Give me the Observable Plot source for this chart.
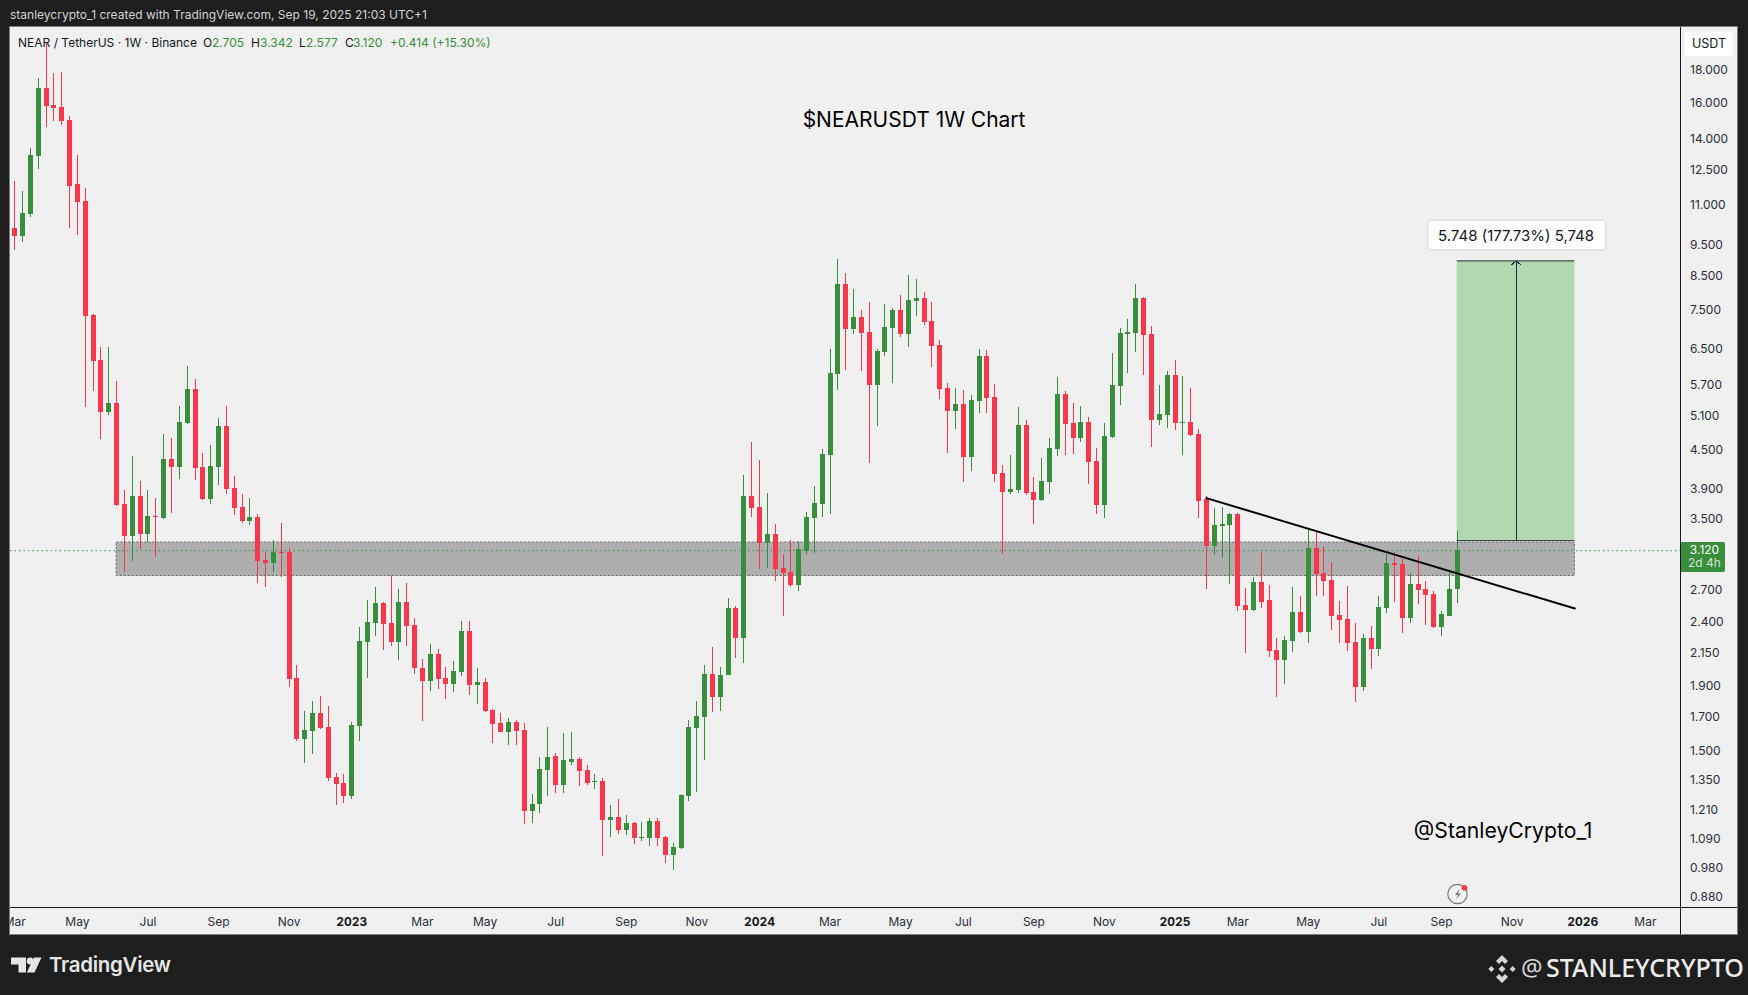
<!DOCTYPE html>
<html>
<head>
<meta charset="utf-8">
<script src="https://cdn.jsdelivr.net/npm/d3@7"></script>
<script src="https://cdn.jsdelivr.net/npm/@observablehq/plot@0.6"></script>
<style>
html,body{margin:0;padding:0;background:#1e1e1e;width:1748px;height:995px;overflow:hidden;font-family:Inter,"Noto Sans",sans-serif}
.t{position:absolute;white-space:pre;line-height:1}
#panel{position:absolute;left:10px;top:27px;width:1727px;height:907px;background:#f0f0f0;box-shadow:0 0 0 1px #7d7d7d;overflow:hidden}
#panel svg{display:block;background:transparent}
.g{color:#388e3c}.k{color:#131722}
</style>
</head>
<body>
<div class="t" style="left:10px;top:9px;font-size:12px;color:#d2d2d2">stanleycrypto_1 created with TradingView.com, Sep 19, 2025 21:03 UTC+1</div>
<div id="panel"></div>
<div style="position:absolute;left:10px;top:907px;width:1727px;height:1px;background:#131722"></div>
<div style="position:absolute;left:1680px;top:27px;width:1px;height:907px;background:#131722"></div>

<div class="t k" style="left:18px;top:37px;font-size:12px">NEAR / TetherUS · 1W · Binance</div>
<div class="t k" style="left:203px;top:37px;font-size:12px">O</div><div class="t g" style="left:212px;top:37px;font-size:12px">2.705</div>
<div class="t k" style="left:251px;top:37px;font-size:12px">H</div><div class="t g" style="left:260px;top:37px;font-size:12px">3.342</div>
<div class="t k" style="left:299px;top:37px;font-size:12px">L</div><div class="t g" style="left:306px;top:37px;font-size:12px">2.577</div>
<div class="t k" style="left:345px;top:37px;font-size:12px">C</div><div class="t g" style="left:353px;top:37px;font-size:12px">3.120</div>
<div class="t g" style="left:390px;top:37px;font-size:12px">+0.414 (+15.30%)</div>

<div style="position:absolute;left:1685px;top:32px;width:48px;height:24px;background:#fff;border-radius:3px"></div>
<div class="t k" style="left:1685px;width:48px;top:38px;font-size:12.5px;text-align:center">USDT</div>

<div style="position:absolute;left:1681px;top:542px;width:44px;height:30px;background:#388e3c;border-radius:0 2px 2px 0"></div>
<div class="t" style="left:1681px;width:47px;top:544px;font-size:12px;text-align:center;color:#fff">3.120</div>
<div class="t" style="left:1681px;width:47px;top:557px;font-size:12px;text-align:center;color:#cfe5d0">2d 4h</div>

<svg style="position:absolute;left:1444px;top:881px" width="28" height="26" viewBox="0 0 28 26">
  <circle cx="13.5" cy="13" r="9.7" fill="#f0f0f0" stroke="#7a7a7a" stroke-width="1.2"/>
  <path d="M15.5 8 L11 14 H14 L12 18.5 L17 12.5 H14 Z" fill="#777"/>
  <circle cx="20.5" cy="6.8" r="2.9" fill="#f7374b"/>
</svg>

<svg style="position:absolute;left:11px;top:956px" width="32" height="18" viewBox="0 0 32 18">
  <path d="M0 1.5 H15 V16.5 H7.5 V8.5 H0 Z" fill="#e6e6e6"/>
  <circle cx="19.2" cy="5" r="3.5" fill="#e6e6e6"/>
  <path d="M23 1.5 H30.5 L23.5 16.5 H15.8 Z" fill="#e6e6e6"/>
</svg>
<div class="t" style="left:49px;top:955px;font-size:20.5px;font-weight:600;color:#e6e6e6;letter-spacing:-0.3px">TradingView</div>

<svg style="position:absolute;left:1488px;top:955px" width="28" height="28" viewBox="0 0 28 28">
  <g fill="#d7d7d7">
    <path d="M14 0 L20 6 L17 9 L14 6 L11 9 L8 6 Z"/>
    <path d="M14 28 L20 22 L17 19 L14 22 L11 19 L8 22 Z"/>
    <path d="M3.3 11 L6.3 14 L3.3 17 L0.3 14 Z"/>
    <path d="M24.7 11 L27.7 14 L24.7 17 L21.7 14 Z"/>
    <path d="M14 10.5 L17.5 14 L14 17.5 L10.5 14 Z"/>
  </g>
</svg>
<div class="t" style="left:1521px;top:955px;font-size:24px;color:#d7d7d7;font-family:'Noto Sans'">@</div>
<div class="t" style="left:1546px;top:955px;font-size:25px;font-weight:500;color:#ececec;font-family:'Noto Sans'">STANLEYCRYPTO</div>

<script>
// Weekly NEAR/USDT candles from the week of 2022-03-07
const firstWeek = [2022, 2, 7];
const opens = [
10.11,9.82,10.64,13.15,16.85,15.84,15.72,14.99,11.87,11.16,
7.36,6.24,5.17,5.34,3.692,3.285,3.802,3.309,3.534,3.508,
4.351,4.226,4.962,5.618,4.226,3.76,4.226,4.908,3.914,3.652,
3.47,3.521,3.01,2.977,3.099,3.099,1.957,1.566,1.613,1.722,
1.636,1.364,1.334,1.272,1.642,2.231,2.392,2.572,2.392,2.231,
2.582,2.374,2.03,1.936,2.136,1.957,1.914,2.0,2.323,1.908,
1.929,1.741,1.661,1.607,1.667,1.619,1.205,1.236,1.399,1.472,
1.324,1.44,1.456,1.399,1.339,1.343,1.165,1.178,1.124,1.153,
1.091,1.091,1.161,1.095,1.026,1.052,1.272,1.63,1.697,1.986,
1.826,1.978,2.526,2.264,3.802,3.652,3.203,3.309,2.923,2.881,
2.748,3.11,3.508,3.692,4.415,5.933,8.24,6.99,7.31,6.92,
5.70,6.43,7.02,7.50,6.87,7.74,7.83,7.2,6.6,5.64,
5.18,5.32,4.383,5.38,6.34,5.456,4.135,3.858,3.886,4.926,
3.858,3.747,4.0,4.513,5.516,4.962,4.698,4.981,4.32,3.68,
4.715,5.68,6.87,6.89,7.83,6.87,5.017,5.11,5.91,4.965,
4.981,4.767,3.76,3.168,3.408,3.42,3.56,2.554,2.508,2.778,
2.601,2.167,2.09,2.239,2.49,2.315,3.145,2.87,2.798,2.462,
2.427,2.231,1.894,2.264,2.175,2.526,2.977,2.966,2.436,2.758,
2.708,2.659,2.357,2.453,2.705];
const highs = [
12.00,11.57,13.54,17.48,19.86,17.80,17.87,15.21,13.20,11.70,
7.38,6.55,6.55,5.78,3.886,4.40,4.015,3.886,3.774,4.767,
4.698,5.28,6.11,5.826,4.447,4.579,5.054,5.28,4.09,3.83,
3.774,3.56,3.099,3.238,3.445,3.145,2.052,1.735,1.799,1.832,
1.767,1.383,1.378,1.667,2.357,2.601,2.728,2.582,2.85,2.708,
2.768,2.436,2.097,2.215,2.175,2.037,2.082,2.41,2.41,2.03,
1.957,1.747,1.722,1.691,1.679,1.661,1.281,1.467,1.636,1.488,
1.601,1.607,1.467,1.425,1.378,1.358,1.231,1.258,1.187,1.157,
1.157,1.174,1.174,1.099,1.072,1.281,1.679,1.799,2.052,2.191,
2.037,2.62,2.545,4.105,4.63,4.335,3.843,3.433,3.077,3.238,
3.226,3.586,3.943,4.513,6.50,9.03,8.58,8.09,7.50,7.72,
6.50,7.66,7.55,7.92,8.52,8.39,8.0,7.72,6.72,5.74,
5.64,5.60,5.50,6.5,6.48,5.72,4.26,4.415,5.26,5.017,
4.075,4.367,4.698,5.869,5.58,5.34,5.28,5.072,4.53,4.962,
6.405,7.02,7.25,8.24,7.86,7.07,5.70,5.998,6.24,5.89,
5.64,4.855,3.80,3.639,3.652,3.573,3.573,2.718,2.829,3.099,
2.748,2.264,2.281,2.728,2.64,3.383,3.347,3.168,2.988,2.592,
2.738,2.392,2.298,2.366,2.64,3.077,3.099,3.021,2.87,3.065,
2.788,2.689,2.5,2.892,3.342];
const lows = [
9.33,9.61,10.52,12.54,14.62,14.94,14.72,10.11,9.85,5.26,
5.58,4.68,5.11,3.67,2.881,2.999,3.133,3.215,3.043,3.50,
3.573,4.045,4.95,4.03,3.747,3.692,3.958,3.83,3.547,3.445,
3.42,2.768,2.728,2.881,2.829,1.894,1.555,1.435,1.483,1.624,
1.343,1.231,1.24,1.258,1.555,1.957,2.281,2.167,2.199,2.09,
2.199,1.986,1.673,1.866,1.88,1.812,1.859,1.971,1.839,1.78,
1.728,1.544,1.604,1.532,1.532,1.149,1.153,1.196,1.272,1.286,
1.286,1.425,1.319,1.324,1.305,1.022,1.095,1.107,1.103,1.068,
1.08,1.06,1.06,0.996,0.971,1.048,1.25,1.291,1.451,1.728,
1.735,1.975,2.105,2.067,3.521,2.913,2.923,2.788,2.453,2.728,
2.689,3.077,3.088,3.521,3.56,5.60,6.02,6.87,6.0,4.29,
4.908,6.34,5.74,6.79,6.55,7.33,7.09,6.09,5.42,4.447,
4.855,4.0,4.165,5.15,5.15,4.0,3.077,3.83,3.843,3.816,
3.433,3.74,3.83,4.40,4.415,4.432,4.63,3.972,3.56,3.508,
4.698,5.30,5.955,6.43,5.91,4.546,4.926,4.873,4.838,4.415,
4.733,3.508,2.708,3.065,3.032,2.758,2.5,2.143,2.50,2.526,
2.113,1.826,1.914,2.152,2.306,2.223,2.64,2.64,2.332,2.223,
2.159,1.793,1.866,2.022,2.12,2.48,2.582,2.306,2.392,2.56,
2.374,2.349,2.281,2.45,2.577];
const closes = [
9.82,10.68,13.20,16.85,15.78,15.66,14.94,11.79,11.12,7.33,
6.22,5.17,5.34,3.68,3.285,3.802,3.309,3.534,3.521,4.351,
4.226,4.981,5.618,4.21,3.76,4.242,4.908,3.90,3.639,3.47,
3.521,2.999,2.977,3.099,3.088,1.95,1.566,1.619,1.722,1.63,
1.358,1.329,1.272,1.649,2.239,2.40,2.572,2.383,2.231,2.582,
2.366,2.03,1.936,2.136,1.95,1.914,2.008,2.323,1.908,1.929,
1.735,1.655,1.607,1.667,1.613,1.205,1.236,1.404,1.467,1.324,
1.451,1.456,1.394,1.334,1.343,1.165,1.178,1.124,1.153,1.091,
1.095,1.161,1.091,1.026,1.056,1.276,1.636,1.703,1.986,1.826,
1.978,2.526,2.264,3.802,3.639,3.203,3.309,2.913,2.87,2.748,
3.133,3.521,3.705,4.432,5.955,8.24,6.99,7.31,6.89,5.70,
6.46,7.04,7.50,6.87,7.77,7.83,7.17,6.57,5.62,5.18,
5.32,4.383,5.40,6.34,5.44,4.12,3.858,3.90,4.926,3.843,
3.747,4.015,4.53,5.516,4.944,4.698,4.981,4.30,3.68,4.73,
5.70,6.89,6.92,7.83,6.84,5.017,5.13,5.91,4.962,4.981,
4.75,3.74,3.168,3.42,3.433,3.56,2.545,2.508,2.778,2.582,
2.159,2.09,2.247,2.49,2.315,3.145,2.86,2.788,2.453,2.419,
2.223,1.894,2.264,2.175,2.536,2.977,2.956,2.436,2.758,2.698,
2.649,2.357,2.472,2.708,3.12];

const priceTicks = [18,16,14,12.5,11,9.5,8.5,7.5,6.5,5.7,5.1,4.5,3.9,3.5,2.7,2.4,2.15,1.9,1.7,1.5,1.35,1.21,1.09,0.98,0.88];
const monthTickDates = ["2022-03-07","2022-05-02","2022-07-04","2022-09-05","2022-11-07","2023-03-06","2023-05-01","2023-07-03","2023-09-04","2023-11-06","2024-03-04","2024-05-06","2024-07-01","2024-09-02","2024-11-04","2025-03-03","2025-05-05","2025-07-07","2025-09-01","2025-11-03","2026-03-02"];
const monthTickLabels = ["Mar","May","Jul","Sep","Nov","Mar","May","Jul","Sep","Nov","Mar","May","Jul","Sep","Nov","Mar","May","Jul","Sep","Nov","Mar"];
const yearTickDates = ["2023-01-02","2024-01-01","2025-01-06","2026-01-05"];
const yearTickLabels = ["2023","2024","2025","2026"];

const zone = {start:"2022-06-06", end:"2025-12-29", top:3.214, bottom:2.845};
const target = {start:"2025-09-15", end:"2025-12-29", arrowAt:"2025-11-06T12:00Z", low:3.237, high:8.985};
const trend = {dates:["2025-02-03","2025-12-29"], prices:[3.78,2.526]};
const lastClose = 3.12;
const measureLabel = "5.748 (177.73%) 5,748";
const RED = "#f7374b", GREEN = "#388e3c";

const dt = s => new Date(s.length === 10 ? s + "T00:00Z" : s);
const candles = opens.map((o,i)=>({
  date:new Date(Date.UTC(firstWeek[0],firstWeek[1],firstWeek[2]+7*i)),
  open:o, high:highs[i], low:lows[i], close:closes[i],
  color: closes[i] >= o ? GREEN : RED
}));
const weekMs = 7*864e5, d0 = candles[0].date.getTime();
const monthFmt = new Map(monthTickDates.map((d,i)=>[+dt(d),monthTickLabels[i]]));
const yearFmt = new Map(yearTickDates.map((d,i)=>[+dt(d),yearTickLabels[i]]));

const chart = Plot.plot({
  width:1727, height:907,
  marginLeft:0, marginRight:56.5, marginTop:0, marginBottom:27,
  style:{fontFamily:"Inter, 'Noto Sans', sans-serif", fontSize:"12px", background:"transparent", color:"#2a2e39"},
  x:{type:"utc", domain:[new Date(d0-0.5357*weekMs), new Date(d0+212.54*weekMs)]},
  y:{type:"log", domain:[0.8484,21.06], axis:null},
  marks:[
    Plot.rect([zone],{x1:d=>dt(d.start),x2:d=>dt(d.end),y1:"top",y2:"bottom",fill:"#aeaeae",stroke:"#6e6e6e",strokeWidth:1,strokeDasharray:"2.5,1.5"}),
    Plot.rect([target],{x1:d=>dt(d.start),x2:d=>dt(d.end),y1:"low",y2:"high",fill:"#b2d8b2"}),
    Plot.ruleY([lastClose],{stroke:GREEN,strokeWidth:1,strokeDasharray:"1.5,3"}),
    Plot.ruleX(candles,{x:"date",y1:"low",y2:"high",stroke:"color",strokeWidth:1,shapeRendering:"crispEdges"}),
    Plot.ruleX(candles,{x:"date",y1:"open",y2:"close",stroke:"color",strokeWidth:5,shapeRendering:"crispEdges"}),
    Plot.ruleY([target.low,target.high],{x1:dt(target.start),x2:dt(target.end),stroke:"#2a2e39",strokeWidth:1}),
    Plot.arrow([target],{x1:d=>dt(d.arrowAt),x2:d=>dt(d.arrowAt),y1:"low",y2:"high",bend:0,stroke:"#2a2e39",strokeWidth:1,headLength:8,headAngle:100,shapeRendering:"crispEdges"}),
    Plot.line(trend.dates.map((d,i)=>({d:dt(d),p:trend.prices[i]})),{x:"d",y:"p",stroke:"#000",strokeWidth:2}),
    Plot.rect([{a:"2025-08-20",b:"2026-01-26",t:10.41,u:9.33}],{x1:d=>dt(d.a),x2:d=>dt(d.b),y1:"t",y2:"u",fill:"#fff",stroke:"#dedede",strokeWidth:1.5,rx:4}),
    Plot.text([measureLabel],{x:dt(target.arrowAt),y:9.82,text:d=>d,fontSize:15,fill:"#131722"}),
    Plot.text(["$NEARUSDT 1W Chart"],{x:dt("2024-05-18"),y:15.0,text:d=>d,fontSize:21,fill:"#000"}),
    Plot.text(["@StanleyCrypto_1"],{x:dt("2025-11-03"),y:1.12,text:d=>d,fontSize:21.2,fill:"#000",dx:-9}),
    Plot.text(priceTicks,{y:d=>d,text:d=>d.toFixed(3),frameAnchor:"right",dx:9,textAnchor:"start",fontSize:12,fill:"#2a2e39"}),
    Plot.axisX({anchor:"bottom",ticks:monthTickDates.map(dt),tickSize:0,tickPadding:10,tickFormat:d=>monthFmt.get(+d),label:null,fontSize:12,fill:"#2a2e39"}),
    Plot.axisX({anchor:"bottom",ticks:yearTickDates.map(dt),tickSize:0,tickPadding:10,tickFormat:d=>yearFmt.get(+d),label:null,fontSize:12,fontWeight:700,fill:"#131722"})
  ]
});
document.getElementById("panel").appendChild(chart);
</script>
</body>
</html>
